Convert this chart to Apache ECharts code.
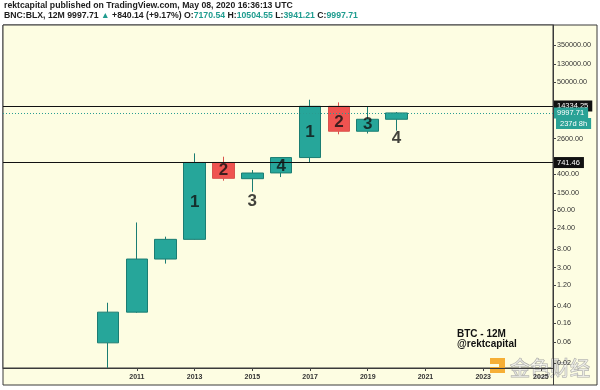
<!DOCTYPE html>
<html><head><meta charset="utf-8">
<script src="https://cdn.jsdelivr.net/npm/echarts@6/dist/echarts.min.js"></script>
<style>html,body{margin:0;padding:0;background:#fff}#c{width:600px;height:390px}</style>
</head><body><div id="c"></div>
<script>
// ---- data (yearly candles, BNC:BLX 12M) ----
const years  = [2010, 2011, 2012, 2013, 2014, 2015, 2016, 2017, 2018, 2019, 2020];
const opens  = [0.058, 0.29, 4.7, 13.2, 745, 318, 430, 963, 14150, 3830, 7170.54];
const closes = [0.29, 4.7, 13.2, 745, 324, 428, 963, 14150, 3830, 7170.54, 9997.71];
const lows   = [0.0156, 0.28, 3.7, 13.0, 286, 160, 346, 741, 3260, 3400, 3941.21];
const highs  = [0.475, 32, 15.2, 1200, 1007, 501, 985, 20000, 17400, 13850, 10504.55];

// annotations (wave counts)
const annoYears  = [2013, 2014, 2015, 2016, 2017, 2018, 2019, 2020];
const annoValues = [93.6, 501, 98.6, 618, 3680, 6230, 5580, 2690];
const annoTexts  = ['1', '2', '3', '4', '1', '2', '3', '4'];

// horizontal levels
const levelValues = [14334.25, 741.46];
const lastPrice = 9997.71;
const countdownText = '237d 8h';

// axis labels
const yTickValues = [350000, 130000, 50000, 2600, 400, 150, 60, 24, 8, 3, 1.2, 0.4, 0.16, 0.06, 0.02];
const xTickValues = [2011, 2013, 2015, 2017, 2019, 2021, 2023, 2025];

const UP = '#26a69a', UP_B = '#1b7d73', DOWN = '#ef5350', DOWN_B = '#d9534d';
const BG = '#fdfde2';
const FONT = 'Liberation Sans';

const chart = echarts.init(document.getElementById('c'), null, {renderer: 'canvas'});

const candleData = years.map((y, i) => [y, opens[i], closes[i], lows[i], highs[i]]);
const annoData = annoYears.map((y, i) => [y, annoValues[i]]);

const levelLines = levelValues.map(v => ({
  yAxis: v,
  lineStyle: {color: '#111', width: 1, type: 'solid'},
  label: {show: true, position: 'end', distance: 1, formatter: v.toFixed(2),
    backgroundColor: '#111', color: '#fff', padding: [2, 4, 1, 3], fontSize: 7.5, fontFamily: FONT}
}));
levelLines.push({
  yAxis: lastPrice,
  lineStyle: {color: '#2a9d92', width: 1, type: [1, 2]},
  label: {show: true, position: 'end', distance: 1, formatter: lastPrice.toFixed(2),
    backgroundColor: '#2aa296', color: '#fff', padding: [2, 4, 1, 3], fontSize: 7.5, fontFamily: FONT}
});

const TEAL = '#1f9c8f';
const headerRich = {
  d: {fontFamily: FONT, fontSize: 8.7, fill: '#1c1c1c', fontWeight: 'bold'},
  t: {fontFamily: FONT, fontSize: 8.7, fill: TEAL, fontWeight: 'bold'}
};

chart.setOption({
  animation: false,
  backgroundColor: '#ffffff',
  grid: {left: 3, top: 25, right: 47, bottom: 22, show: true, backgroundColor: BG, borderColor: '#3a3a3a', borderWidth: 1, containLabel: false},
  xAxis: {
    type: 'value', min: 2006.36, max: 2025.42, position: 'bottom',
    splitLine: {show: false},
    axisLine: {show: true, lineStyle: {color: '#3a3a3a'}},
    axisTick: {show: true, length: 3, lineStyle: {color: '#444'}, customValues: xTickValues},
    axisLabel: {customValues: xTickValues, formatter: v => String(Math.round(v)), fontFamily: FONT, fontSize: 7, fontWeight: 'bold', color: '#333', margin: 6}
  },
  yAxis: {
    type: 'log', logBase: 10, min: 0.0155, max: 1007000, position: 'right',
    splitLine: {show: false},
    axisLine: {show: true, lineStyle: {color: '#3a3a3a'}},
    axisTick: {show: true, length: 3, lineStyle: {color: '#444'}, customValues: yTickValues},
    axisLabel: {customValues: yTickValues, formatter: v => Number(v).toFixed(2), fontFamily: FONT, fontSize: 7.2, color: '#333', margin: 4}
  },
  series: [
    {
      type: 'candlestick',
      data: candleData,
      encode: {x: 0, y: [1, 2, 3, 4]},
      barWidth: 22,
      clip: true,
      itemStyle: {color: UP, color0: DOWN, borderColor: UP_B, borderColor0: DOWN_B, borderWidth: 1},
      markLine: {symbol: ['none', 'none'], silent: true, data: levelLines, animation: false}
    },
    {
      type: 'scatter',
      data: annoData,
      symbolSize: 1,
      itemStyle: {color: 'rgba(0,0,0,0)'},
      z: 5,
      label: {show: true, position: 'inside', formatter: p => annoTexts[p.dataIndex], fontFamily: FONT, fontSize: 17, fontWeight: 'bold', color: '#111'}
    }
  ]
});

const yLast = chart.convertToPixel({yAxisIndex: 0}, lastPrice);

chart.setOption({
  graphic: [
    {type: 'rect', z: -10, shape: {x: 3, y: 25, width: 594, height: 360}, style: {fill: BG, stroke: '#3a3a3a', lineWidth: 1}},
    {type: 'line', z: 1, shape: {x1: 553.5, y1: 368, x2: 553.5, y2: 385}, style: {stroke: '#3a3a3a', lineWidth: 1}},
    {type: 'text', left: 4, top: 1, style: {
      text: '{d|rektcapital published on TradingView.com, May 08, 2020 16:36:13 UTC}',
      rich: headerRich}},
    {type: 'text', left: 4, top: 11, style: {
      text: '{d|BNC:BLX, 12M 9997.71 }{t|▲}{d| +840.14 (+9.17%) O:}{t|7170.54}{d| H:}{t|10504.55}{d| L:}{t|3941.21}{d| C:}{t|9997.71}',
      rich: headerRich}},
    {type: 'text', x: 556, y: yLast + 5, z: 10, style: {
      text: countdownText, fontFamily: FONT, fontSize: 7.5, fill: '#fff',
      backgroundColor: '#2aa296', padding: [2, 4, 1, 4]}},
    {type: 'text', left: 457, top: 329, z: 10, style: {
      text: 'BTC - 12M\n@rektcapital', fontFamily: FONT, fontSize: 10, fontWeight: 'bold', fill: '#111', lineHeight: 10}},
    {type: 'group', z: 20, children: [
      {type: 'polygon', shape: {points: [[490,358],[505,358],[505,373],[490,373],[490,367],[499,367],[499,364],[490,364]]}, style: {fill: 'rgba(245,166,35,0.9)'}},
      {type: 'text', x: 510, y: 358, style: {text: '金色财经', fontFamily: 'Noto Sans CJK SC', fontSize: 20, fill: 'rgba(255,255,255,0.55)', stroke: 'rgba(150,150,150,0.8)', lineWidth: 1}}
    ]}
  ]
});
</script>
</body></html>
